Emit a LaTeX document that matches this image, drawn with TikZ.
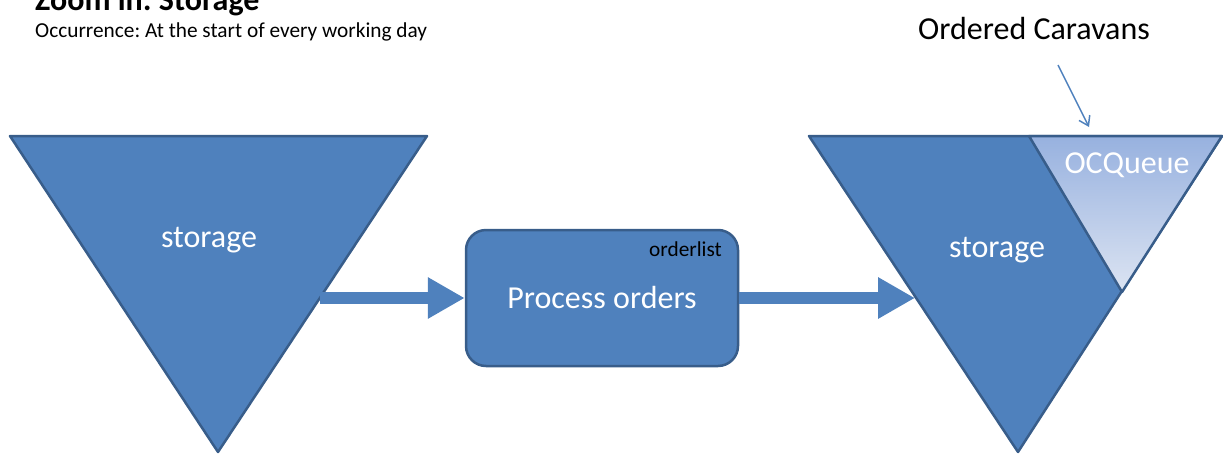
\documentclass[tikz,border=0pt]{standalone}
\usepackage{fontspec}
\setmainfont{Carlito}
\usetikzlibrary{arrows.meta}
\frenchspacing

\definecolor{accent}{HTML}{4F81BD}
\definecolor{accentline}{HTML}{385D8A}
\definecolor{queuetop}{HTML}{97B1DF}
\definecolor{queuebottom}{HTML}{DCE4F2}

\tikzset{
  shapeline/.style={draw=accentline, line width=2.5pt, line join=round},
  bigtext/.style={font=\fontsize{32}{38}\selectfont, text=white, inner sep=0pt, anchor=base},
  blackbig/.style={font=\fontsize{32}{38}\selectfont, text=black, inner sep=0pt, anchor=base},
  smalltext/.style={font=\fontsize{21.3}{26}\selectfont, text=black, inner sep=0pt, anchor=base},
  flow/.style={draw=accent, line width=12pt,
    -{Triangle[length=37pt,width=39pt]}, shorten <=0pt},
  pointer/.style={draw=accent, line width=1.5pt, -{Straight Barb[length=9pt,width=12pt]}}
}

\begin{document}
\begin{tikzpicture}[x=1pt,y=-1pt]
\useasboundingbox (0,0) rectangle (1223,453);

% heading
\node[font=\fontsize{32}{38}\selectfont\bfseries, inner sep=0pt, anchor=base west] (title) at (35,10) {Zoom in: Storage};
\node[smalltext, anchor=base west] (occ) at (35,37) {Occurrence: At the start of every working day};

% incoming storage
\path[fill=accent, shapeline] (10,136) -- (427,136) -- (218,452) -- cycle;
\node[bigtext] (store1) at (209,247) {storage};
\coordinate (s1out) at (320,298);

% processing step
\node[fill=accent, shapeline, rounded corners=20pt, minimum width=272pt, minimum height=136pt, inner sep=0pt] (proc) at (602,298) {};
\node[bigtext] (proclabel) at (602,308) {Process orders};
\node[smalltext, anchor=base east] (olist) at (722,256) {orderlist};

% outgoing storage with the queue section
\path[fill=accent, shapeline] (809,136) -- (1222,136) -- (1018,452) -- cycle;
\path[top color=queuetop, bottom color=queuebottom, shapeline] (1029,136) -- (1222,136) -- (1122,292) -- cycle;
\node[bigtext] (store2) at (997,257) {storage};
\node[bigtext] (queue) at (1127,173) {OCQueue};
\coordinate (s2in) at (915,298);

% flows between the steps
\draw[flow] (s1out) -- (proc.west);
\draw[flow] (proc.east) -- (s2in);

% label for the queue
\node[blackbig] (caravans) at (1034,39) {Ordered Caravans};
\coordinate (ptail) at (1058,65);
\coordinate (phead) at (1089,127);
\draw[pointer] (ptail) -- (phead);
\end{tikzpicture}
\end{document}
